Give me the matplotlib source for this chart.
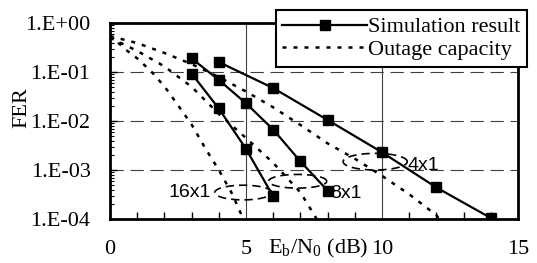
import numpy as np
import matplotlib
matplotlib.use('Agg')
import matplotlib.pyplot as plt
from matplotlib.ticker import FixedLocator, FixedFormatter, LogLocator, NullFormatter, MultipleLocator

plt.rcParams['font.family'] = ['Liberation Serif', 'DejaVu Serif']
plt.rcParams['mathtext.fontset'] = 'custom'
plt.rcParams['mathtext.rm'] = 'Liberation Serif'

# simulation results (squares)
sim_4x1_x = [4, 6, 8, 10, 12, 14]
sim_4x1_fer = [0.16, 0.047, 0.0105, 0.0023, 4.4e-4, 1.05e-4]
sim_8x1_x = [3, 4, 5, 6, 7, 8]
sim_8x1_fer = [0.19, 0.069, 0.023, 0.0067, 0.0015, 3.8e-4]
sim_16x1_x = [3, 4, 5, 6]
sim_16x1_fer = [0.093, 0.018, 0.0027, 2.9e-4]

# outage capacity (dotted)
out_4x1_x = [0, 1, 2, 3, 4, 5, 6, 7, 8, 9, 10, 11, 12, 12.1]
out_4x1_fer = [0.54, 0.39, 0.245, 0.145, 0.079, 0.040, 0.019, 0.0083,
               0.0035, 0.0017, 7.6e-4, 3.2e-4, 1.2e-4, 1.0e-4]
out_8x1_x = [0, 1, 2, 3, 4, 5, 6, 7, 7.6]
out_8x1_fer = [0.50, 0.27, 0.13, 0.05, 0.014, 0.0045, 0.0014, 3.5e-4, 1.0e-4]
out_16x1_x = [0, 0.6, 1, 1.5, 2, 2.5, 3, 3.5, 4, 4.5, 4.9]
out_16x1_fer = [0.56, 0.28, 0.19, 0.105, 0.051, 0.021, 0.0085, 0.0028,
                0.001, 3.2e-4, 1.0e-4]

ytick_vals = [1e-4, 1e-3, 1e-2, 1e-1, 1e0]
ytick_labels = ['1.E-04', '1.E-03', '1.E-02', '1.E-01', '1.E+00']
xtick_vals = [0, 5, 10, 15]

# group labels: (text, ellipse centre x, centre log10 FER, half width, half height in decades, label x, label log10 y, ha)
groups = [
    ('16x1', 4.9, -3.46, 1.05, 0.15, 3.7, -3.45, 'right'),
    ('8x1', 6.9, -3.23, 1.07, 0.14, 8.1, -3.47, 'left'),
    ('4x1', 9.75, -2.83, 1.18, 0.17, 10.95, -2.9, 'left'),
]

fig = plt.figure(figsize=(5.37, 2.63), dpi=100)
ax = fig.add_axes([0.2048, 0.1673, 0.7598, 0.7452])

sim_style = dict(color='black', lw=1.6, marker='s', markersize=7.5)
out_style = dict(color='black', lw=1.8, linestyle=(0, (1.6, 2.8)))

ax.plot(sim_4x1_x, sim_4x1_fer, label='Simulation result', **sim_style)
ax.plot(sim_8x1_x, sim_8x1_fer, **sim_style)
ax.plot(sim_16x1_x, sim_16x1_fer, **sim_style)
ax.plot(out_4x1_x, out_4x1_fer, label='Outage capacity', **out_style)
ax.plot(out_8x1_x, out_8x1_fer, **out_style)
ax.plot(out_16x1_x, out_16x1_fer, **out_style)

t = np.linspace(0, 2 * np.pi, 200)
for name, cx, cy, a, b, tx, ty, ha in groups:
    ax.plot(cx + a * np.cos(t), 10 ** (cy + b * np.sin(t)), color='black',
            lw=1.2, linestyle=(0, (5, 3)))
    ax.text(tx, 10 ** ty, name, fontsize=14, family='Liberation Sans',
            ha=ha, va='center')

ax.set_yscale('log')
ax.set_xlim(0, 15)
ax.set_ylim(1e-4, 1)
ax.yaxis.set_major_locator(FixedLocator(ytick_vals))
ax.yaxis.set_major_formatter(FixedFormatter(ytick_labels))
ax.yaxis.set_minor_locator(LogLocator(base=10, subs=np.arange(2, 10)))
ax.yaxis.set_minor_formatter(NullFormatter())
ax.xaxis.set_major_locator(FixedLocator(xtick_vals))
ax.xaxis.set_minor_locator(MultipleLocator(1))

ax.tick_params(which='both', direction='in', labelsize=16)
ax.tick_params(axis='y', which='major', length=5, width=1, pad=14)
ax.tick_params(axis='y', which='minor', length=3, width=0.8)
ax.tick_params(axis='x', which='major', length=0, pad=15)
ax.tick_params(axis='x', which='minor', length=5, width=1)

ax.grid(True, axis='y', which='major', color='0.25', lw=0.8, linestyle=(0, (12, 6)))
ax.grid(True, axis='x', which='major', color='0.25', lw=0.8)
for s in ax.spines.values():
    s.set_linewidth(2)

ax.set_ylabel('FER', fontsize=16)
ax.yaxis.set_label_coords(-0.215, 0.57)
ax.yaxis.label.set_va('center')
ax.set_xlabel('E$_{\\rm b}$/N$_{\\rm 0}$ (dB)', fontsize=16)
ax.xaxis.set_label_coords(0.51, -0.148)
ax.xaxis.label.set_va('center')

leg = ax.legend(loc='upper right', bbox_to_anchor=(1.022, 1.066), fontsize=16,
                frameon=True, fancybox=False, framealpha=1, edgecolor='black',
                handlelength=3.8, handletextpad=0.05, labelspacing=0.1,
                borderpad=0.3, borderaxespad=0)
leg.get_frame().set_linewidth(1.5)

fig.savefig('out.png', dpi=100)
